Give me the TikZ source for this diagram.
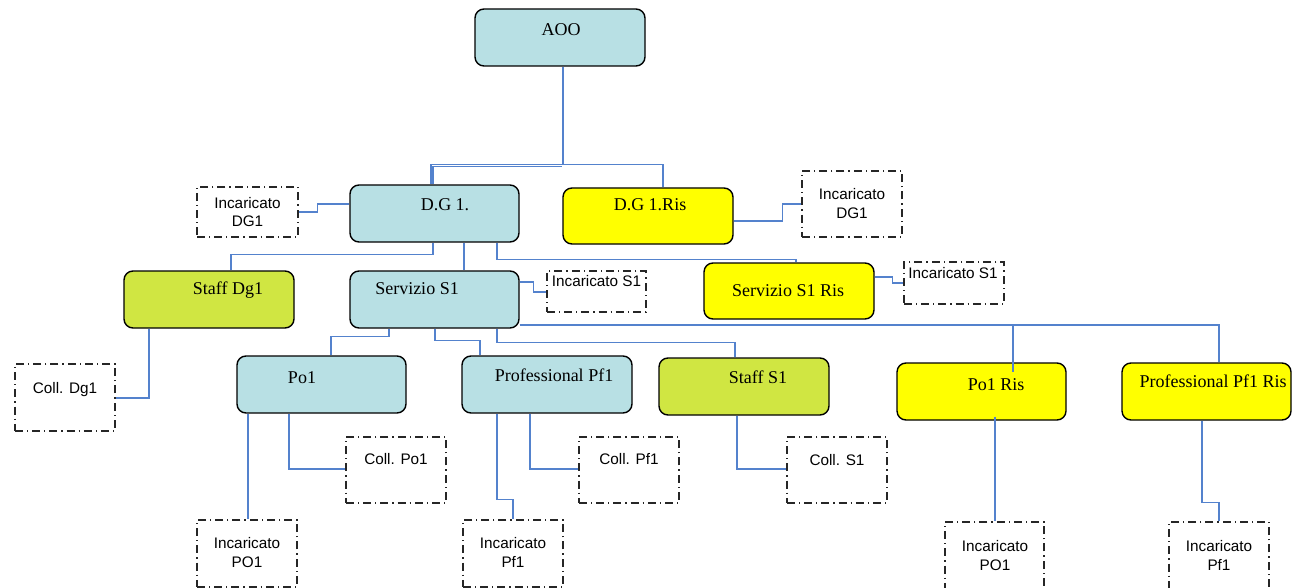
\documentclass[tikz,border=0pt]{standalone}
\usepackage{fontspec}
\setmainfont{Liberation Serif}
\newfontfamily\sansf{Liberation Sans}
\definecolor{boxblue}{RGB}{184,224,228}
\definecolor{boxgreen}{RGB}{208,230,66}
\definecolor{boxyellow}{RGB}{255,255,0}
\definecolor{connblue}{RGB}{84,130,205}
\tikzset{
  rbox/.style={draw=black, line width=1.4pt, rounded corners=9pt, inner sep=0pt},
  bluebox/.style={rbox, fill=boxblue},
  greenbox/.style={rbox, fill=boxgreen},
  yellowbox/.style={rbox, fill=boxyellow},
  dbox/.style={draw=black!85, line width=1.4pt, inner sep=0pt,
     dash pattern=on 8pt off 4pt on 1.2pt off 4pt},
  stxt/.style={inner sep=0pt, text height=12pt, text depth=4pt,
     font=\fontsize{18}{20}\selectfont},
  dtxt/.style={inner sep=0pt, align=center,
     font=\sansf\fontsize{15.3}{18.5}\selectfont},
  conn/.style={draw=connblue, line width=1.1pt},
}
\begin{document}
\begin{tikzpicture}[x=1pt,y=-1pt]
\useasboundingbox (0,0) rectangle (1292,588);
% rounded boxes
\node[bluebox, minimum width=170pt, minimum height=57pt] (aoo) at (560,37.5) {};
\node[stxt] (aoo-t) at (561,32) {AOO};
\node[bluebox, minimum width=169pt, minimum height=57pt] (dg1) at (434.5,213.5) {};
\node[stxt] (dg1-t) at (445,206) {D.G 1.};
\node[yellowbox, minimum width=170pt, minimum height=56pt] (dg1r) at (648,216) {};
\node[stxt] (dg1r-t) at (650,207) {D.G 1.Ris};
\node[greenbox, minimum width=170pt, minimum height=57pt] (staffdg1) at (209,299.5) {};
\node[stxt] (staffdg1-t) at (228,290) {Staff Dg1};
\node[bluebox, minimum width=169pt, minimum height=57pt] (s1) at (434.5,299.5) {};
\node[stxt] (s1-t) at (417,290) {Servizio S1};
\node[yellowbox, minimum width=170pt, minimum height=56pt] (s1r) at (789,291) {};
\node[stxt] (s1r-t) at (788,292) {Servizio S1 Ris};
\node[bluebox, minimum width=169pt, minimum height=57pt] (po1) at (321.5,384.5) {};
\node[stxt] (po1-t) at (302,379) {Po1};
\node[bluebox, minimum width=170pt, minimum height=57pt] (pf1) at (547,384.5) {};
\node[stxt] (pf1-t) at (554,377) {Professional Pf1};
\node[greenbox, minimum width=170pt, minimum height=57pt] (staffs1) at (744,386.5) {};
\node[stxt] (staffs1-t) at (758,379) {Staff S1};
\node[yellowbox, minimum width=169pt, minimum height=57pt] (po1r) at (981.5,391.5) {};
\node[stxt] (po1r-t) at (996,386) {Po1 Ris};
\node[yellowbox, minimum width=169pt, minimum height=57pt] (pf1r) at (1206.5,391.5) {};
\node[stxt] (pf1r-t) at (1213,383) {Professional Pf1 Ris};
% dash-dot boxes
\node[dbox, minimum width=101pt, minimum height=50pt] (incdg1) at (247.5,212) {};
\node[dtxt] (incdg1-t) at (247.5,212) {Incaricato\\DG1};
\node[dbox, minimum width=100pt, minimum height=66pt] (incdg1r) at (852,204) {};
\node[dtxt] (incdg1r-t) at (852,203.5) {Incaricato\\DG1};
\node[dbox, minimum width=99pt, minimum height=41pt] (incs1) at (596.5,291.5) {};
\node[dtxt] (incs1-t) at (596.5,281) {Incaricato S1};
\node[dbox, minimum width=100pt, minimum height=42pt] (incs1r) at (954,283) {};
\node[dtxt] (incs1r-t) at (953,273) {Incaricato S1};
\node[dbox, minimum width=100pt, minimum height=67pt] (colldg1) at (65,397.5) {};
\node[dtxt] (colldg1-t) at (65,390) {Coll. Dg1};
\node[dbox, minimum width=100pt, minimum height=66pt] (collpo1) at (396,470) {};
\node[dtxt] (collpo1-t) at (396,459) {Coll. Po1};
\node[dbox, minimum width=100pt, minimum height=66pt] (collpf1) at (629,470) {};
\node[dtxt] (collpf1-t) at (629,459) {Coll. Pf1};
\node[dbox, minimum width=100pt, minimum height=66pt] (colls1) at (837,470) {};
\node[dtxt] (colls1-t) at (837,460) {Coll. S1};
\node[dbox, minimum width=100pt, minimum height=67pt] (incpo1) at (247,553.5) {};
\node[dtxt] (incpo1-t) at (247,552.5) {Incaricato\\PO1};
\node[dbox, minimum width=100pt, minimum height=67pt] (incpf1) at (513,553.5) {};
\node[dtxt] (incpf1-t) at (513,552.5) {Incaricato\\Pf1};
\node[dbox, minimum width=99pt, minimum height=68pt] (incpo1r) at (994.5,556) {};
\node[dtxt] (incpo1r-t) at (995,555.5) {Incaricato\\PO1};
\node[dbox, minimum width=100pt, minimum height=68pt] (incpf1r) at (1219,556) {};
\node[dtxt] (incpf1r-t) at (1219,555.5) {Incaricato\\Pf1};
% connectors
\draw[conn] ([xshift=3pt]aoo.south) -- ++(0,98) coordinate (aj);
\draw[conn] (aj) -| ([xshift=-3.5pt]dg1.north);
\draw[conn] ([xshift=-1.5pt,yshift=-1.5pt]aj) -| ([xshift=-1.5pt]dg1.north);
\draw[conn] (aj) -| ([xshift=15pt]dg1r.north);
\draw[conn] ([yshift=9.5pt]dg1.west) -- ++(-32,0) |- (incdg1.east);
\draw[conn] ([yshift=-5pt]dg1r.east) -- ++(49,0) |- (incdg1r.west);
\draw[conn] ([xshift=-1.5pt]dg1.south) -- ++(0,12) -| ([xshift=22pt]staffdg1.north);
\draw[conn] ([xshift=29.5pt]dg1.south) -- ([xshift=29.5pt]s1.north);
\draw[conn] ([xshift=62.5pt]dg1.south) -- ++(0,16.5) -| ([xshift=7pt]s1r.north);
\draw[conn] ([yshift=17.5pt]s1.east) -- ++(14,0) |- ([yshift=-0.5pt]incs1.west);
\draw[conn] ([yshift=14pt]s1r.east) -- ++(18,0) |- (incs1r.west);
\draw[conn] ([xshift=-60pt]staffdg1.south) |- ([yshift=-0.5pt]colldg1.east);
\draw[conn] ([xshift=-45.5pt]s1.south) -- ++(0,8) -| ([xshift=9.5pt]po1.north);
\draw[conn] ([xshift=0.5pt]s1.south) -- ++(0,12) -| ([xshift=-67pt]pf1.north);
\draw[conn] ([xshift=62.5pt]s1.south) -- ++(0,14) -| ([xshift=-9pt]staffs1.north);
\coordinate (hl) at ([yshift=-25.5pt]s1.east);
\draw[conn] (hl) -| ([xshift=31.5pt,yshift=-10pt]po1r.north);
\draw[conn] (hl) -| ([xshift=12.5pt]pf1r.north);
\draw[conn] ([xshift=-73.5pt]po1.south) -- ([xshift=1pt]incpo1.north);
\draw[conn] ([xshift=-32.5pt]po1.south) |- ([yshift=1pt]collpo1.west);
\draw[conn] ([xshift=-50pt]pf1.south) -- ++(0,86) -| (incpf1.north);
\draw[conn] ([xshift=-17pt]pf1.south) |- ([yshift=1pt]collpf1.west);
\draw[conn] ([xshift=-7pt]staffs1.south) |- ([yshift=1pt]colls1.west);
\draw[conn] ([xshift=13.5pt,yshift=4pt]po1r.south) -- ([xshift=0.5pt]incpo1r.north);
\draw[conn] ([xshift=-4.5pt]pf1r.south) -- ++(0,82) -| (incpf1r.north);
\end{tikzpicture}
\end{document}
